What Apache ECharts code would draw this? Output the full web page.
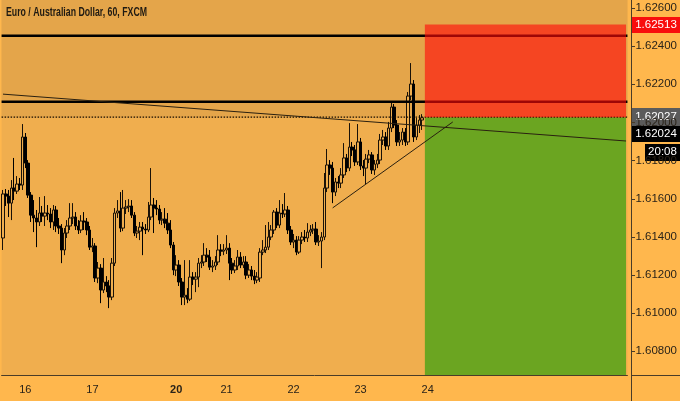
<!DOCTYPE html>
<html><head><meta charset="utf-8">
<script src="https://cdn.jsdelivr.net/npm/echarts@6/dist/echarts.min.js"></script>
<style>html,body{margin:0;padding:0;background:#FFB74D}#c{width:680px;height:401px}</style>
</head><body><div id="c"></div>
<script>
const chartTitle = 'Euro / Australian Dollar, 60, FXCM';
const dayLabels = {8:'16', 32:'17', 62:'20', 80:'21', 104:'22', 128:'23', 152:'24'};
const boldDays = ['20'];
const nCats = 224;

const open = [1.61393,1.61624,1.61613,1.61576,1.61655,1.61639,1.61676,1.61671,1.61923,1.61786,
1.61618,1.61513,1.61498,1.61477,1.61524,1.61508,1.61524,1.61519,1.61477,1.61540,
1.61456,1.61445,1.61330,1.61419,1.61456,1.61498,1.61503,1.61456,1.61435,1.61482,
1.61477,1.61435,1.61345,1.61351,1.61183,1.61235,1.61120,1.61162,1.61141,1.61083,
1.61261,1.61524,1.61535,1.61445,1.61550,1.61556,1.61561,1.61513,1.61419,1.61429,
1.61450,1.61440,1.61435,1.61503,1.61566,1.61550,1.61545,1.61487,1.61492,1.61471,
1.61435,1.61356,1.61225,1.61251,1.61162,1.61083,1.61093,1.61072,1.61188,1.61177,
1.61188,1.61261,1.61267,1.61303,1.61293,1.61240,1.61246,1.61267,1.61330,1.61324,
1.61330,1.61340,1.61261,1.61225,1.61246,1.61293,1.61251,1.61267,1.61198,1.61225,
1.61193,1.61172,1.61183,1.61319,1.61330,1.61345,1.61398,1.61435,1.61529,1.61461,
1.61524,1.61519,1.61540,1.61435,1.61372,1.61382,1.61319,1.61382,1.61398,1.61393,
1.61424,1.61435,1.61440,1.61372,1.61377,1.61398,1.61655,1.61776,1.61760,1.61634,
1.61687,1.61681,1.61724,1.61813,1.61760,1.61870,1.61855,1.61792,1.61897,1.61771,
1.61760,1.61807,1.61829,1.61750,1.61781,1.61802,1.61907,1.61923,1.61876,1.61970,
1.62080,1.61986,1.61897,1.61907,1.61949,1.61897,1.62138,1.62201,1.61923,1.61986,
1.62012];
const close = [1.61624,1.61613,1.61576,1.61655,1.61639,1.61676,1.61671,1.61923,1.61786,1.61618,
1.61513,1.61498,1.61477,1.61524,1.61508,1.61524,1.61519,1.61477,1.61540,1.61456,
1.61445,1.61330,1.61419,1.61456,1.61498,1.61503,1.61456,1.61435,1.61482,1.61477,
1.61435,1.61345,1.61351,1.61183,1.61235,1.61120,1.61162,1.61141,1.61083,1.61261,
1.61524,1.61535,1.61445,1.61550,1.61556,1.61561,1.61513,1.61419,1.61429,1.61450,
1.61440,1.61435,1.61503,1.61566,1.61550,1.61545,1.61487,1.61492,1.61471,1.61435,
1.61356,1.61225,1.61251,1.61162,1.61083,1.61093,1.61072,1.61188,1.61177,1.61188,
1.61261,1.61267,1.61303,1.61293,1.61240,1.61246,1.61267,1.61330,1.61324,1.61330,
1.61340,1.61261,1.61225,1.61246,1.61293,1.61251,1.61267,1.61198,1.61225,1.61193,
1.61172,1.61188,1.61319,1.61330,1.61345,1.61398,1.61435,1.61529,1.61461,1.61524,
1.61519,1.61540,1.61435,1.61372,1.61382,1.61319,1.61382,1.61398,1.61393,1.61424,
1.61435,1.61440,1.61372,1.61377,1.61398,1.61655,1.61776,1.61760,1.61634,1.61687,
1.61681,1.61724,1.61813,1.61760,1.61870,1.61855,1.61792,1.61897,1.61771,1.61760,
1.61807,1.61829,1.61750,1.61781,1.61802,1.61907,1.61923,1.61876,1.61970,1.62080,
1.61986,1.61897,1.61907,1.61949,1.61897,1.62138,1.62201,1.61923,1.61986,1.62012,
1.62024];
const low = [1.61330,1.61561,1.61503,1.61487,1.61592,1.61624,1.61645,1.61645,1.61760,1.61603,
1.61477,1.61424,1.61345,1.61456,1.61477,1.61456,1.61487,1.61445,1.61435,1.61424,
1.61414,1.61261,1.61303,1.61393,1.61435,1.61466,1.61435,1.61414,1.61419,1.61435,
1.61408,1.61330,1.61319,1.61162,1.61156,1.61051,1.61104,1.61109,1.61025,1.61067,
1.61246,1.61498,1.61424,1.61429,1.61519,1.61529,1.61498,1.61403,1.61393,1.61382,
1.61303,1.61414,1.61424,1.61487,1.61419,1.61513,1.61466,1.61461,1.61445,1.61414,
1.61340,1.61198,1.61193,1.61141,1.61041,1.61041,1.61051,1.61062,1.61146,1.61109,
1.61135,1.61235,1.61246,1.61267,1.61225,1.61214,1.61225,1.61251,1.61298,1.61303,
1.61309,1.61172,1.61204,1.61209,1.61225,1.61235,1.61235,1.61177,1.61183,1.61172,
1.61151,1.61156,1.61162,1.61303,1.61314,1.61330,1.61382,1.61414,1.61445,1.61445,
1.61498,1.61503,1.61414,1.61356,1.61340,1.61303,1.61309,1.61361,1.61372,1.61372,
1.61403,1.61414,1.61356,1.61351,1.61235,1.61382,1.61634,1.61724,1.61576,1.61613,
1.61655,1.61655,1.61708,1.61739,1.61744,1.61823,1.61771,1.61776,1.61750,1.61718,
1.61676,1.61786,1.61729,1.61724,1.61760,1.61781,1.61881,1.61855,1.61855,1.61949,
1.61970,1.61876,1.61876,1.61881,1.61876,1.61881,1.62117,1.61897,1.61907,1.61944,
1.61960];
const high = [1.61645,1.61650,1.61645,1.61697,1.61813,1.61718,1.61708,1.61991,1.61944,1.61802,
1.61634,1.61592,1.61540,1.61608,1.61561,1.61613,1.61566,1.61550,1.61566,1.61561,
1.61498,1.61466,1.61445,1.61487,1.61576,1.61576,1.61529,1.61487,1.61513,1.61529,
1.61498,1.61456,1.61393,1.61366,1.61267,1.61256,1.61288,1.61193,1.61172,1.61288,
1.61550,1.61592,1.61634,1.61645,1.61592,1.61597,1.61592,1.61529,1.61456,1.61477,
1.61477,1.61466,1.61582,1.61760,1.61603,1.61592,1.61566,1.61529,1.61550,1.61524,
1.61487,1.61372,1.61303,1.61277,1.61183,1.61277,1.61130,1.61277,1.61214,1.61214,
1.61288,1.61303,1.61366,1.61340,1.61330,1.61277,1.61298,1.61408,1.61361,1.61361,
1.61408,1.61366,1.61288,1.61277,1.61330,1.61319,1.61298,1.61298,1.61256,1.61246,
1.61225,1.61214,1.61340,1.61382,1.61461,1.61477,1.61461,1.61540,1.61550,1.61592,
1.61571,1.61629,1.61561,1.61456,1.61414,1.61403,1.61403,1.61424,1.61435,1.61471,
1.61461,1.61466,1.61477,1.61408,1.61424,1.61734,1.61860,1.61802,1.61792,1.61708,
1.61718,1.61760,1.61891,1.61834,1.61996,1.61897,1.61881,1.61991,1.61918,1.61802,
1.61834,1.61855,1.61844,1.61802,1.61834,1.61939,1.61960,1.61949,1.62002,1.62107,
1.62096,1.62012,1.61949,1.61970,1.61970,1.62159,1.62311,1.62222,1.62023,1.62038,
1.62043];

const yTicks = [1.608, 1.610, 1.612, 1.614, 1.616, 1.618, 1.620, 1.622, 1.624, 1.626];
const yMin = 1.60674, yMax = 1.62642;
const resistanceLevels = [1.62454, 1.62108];
const entryPrice = 1.62027;
const stopPrice = 1.62513;
const lastPrice = 1.62024;
const countdown = '20:08';
const trendA = [[0, 1.62148], [223, 1.61902]];
const trendB = [[118, 1.61551], [161, 1.62002]];
const positionStart = 151, positionEnd = 223;

const chart = echarts.init(document.getElementById('c'), null, {renderer: 'canvas'});
const cats = Array.from({length: nCats}, (_, i) => String(i));
const candles = open.map((o, i) => [o, close[i], low[i], high[i]]);
const axisCol = '#4a3c28';
const txtCol = '#2a2319';
const FONT = "'Liberation Sans', Arial, sans-serif";

const level = (v, style, z) => ({type: 'line', xAxisIndex: 1, data: [[0, v], [1, v]], z: z, symbol: 'none', silent: true, lineStyle: style});

const option = {
  animation: false,
  backgroundColor: '#FFB74D',
  grid: {left: 0, right: 49, top: 0, bottom: 26, show: true, backgroundColor: '#F0AE4E', borderWidth: 0},
  xAxis: [{
    type: 'category', data: cats, boundaryGap: true,
    axisLine: {onZero: false, lineStyle: {color: axisCol, width: 1}},
    axisTick: {interval: (i) => dayLabels[i] !== undefined, alignWithLabel: true, length: 4, lineStyle: {color: axisCol}},
    axisLabel: {
      interval: 0, margin: 9, fontSize: 11, color: txtCol, fontFamily: FONT,
      formatter: (v, i) => { const l = dayLabels[i]; if (!l) return ''; return boldDays.includes(l) ? '{b|' + l + '}' : l; },
      rich: {b: {fontWeight: 'bold', fontSize: 11, color: txtCol, fontFamily: FONT}}
    },
    splitLine: {show: false}
  }, {
    type: 'value', min: 0, max: 1, show: false, axisLine: {onZero: false}
  }],
  yAxis: {
    type: 'value', position: 'right', min: yMin, max: yMax,
    axisLine: {show: false, onZero: false},
    axisTick: {show: false},
    axisLabel: {customValues: yTicks, formatter: (v) => v.toFixed(5), margin: 8, fontSize: 11.5, color: txtCol, fontFamily: FONT},
    splitLine: {show: false}
  },
  series: [
    {type: 'line', data: [], z: 0, silent: true,
     markArea: {silent: true, z: 0, itemStyle: {color: '#E4A54A'}, data: [[{yAxis: entryPrice}, {yAxis: yMax}]]}},
    {type: 'line', data: [], z: 1, silent: true,
     markArea: {silent: true, z: 1, itemStyle: {color: '#6BA521'}, data: [[{xAxis: positionStart, yAxis: entryPrice}, {xAxis: positionEnd, yAxis: yMin}]]}},
    {type: 'candlestick', data: candles, z: 3, barWidth: 3,
     itemStyle: {color: '#F0AE4E', color0: '#000000', borderColor: '#1a1208', borderColor0: '#000000', borderWidth: 1}},
    ...resistanceLevels.map(v => level(v, {color: '#000', width: 2.5, type: 'solid'}, 4)),
    level(entryPrice, {color: '#140c00', width: 1.3, type: [1.5, 1.5]}, 4),
    {type: 'line', data: trendA, z: 4, symbol: 'none', silent: true, lineStyle: {color: '#2a2010', width: 1}},
    {type: 'line', data: trendB, z: 4, symbol: 'none', silent: true, lineStyle: {color: '#2a2010', width: 1}},
    {type: 'line', data: [], z: 10, silent: true,
     markArea: {silent: true, z: 10, itemStyle: {color: 'rgba(255,10,10,0.62)'}, data: [[{xAxis: positionStart, yAxis: stopPrice}, {xAxis: positionEnd, yAxis: entryPrice}]]}}
  ]
};
chart.setOption(option);

const py = (v) => chart.convertToPixel({yAxisIndex: 0}, v);
const yS = py(stopPrice), yE = py(entryPrice);
const lastY = yE + 17;
function priceBox(cy, text, fill, x, w, h) {
  return {type: 'group', z: 100, children: [
    {type: 'rect', shape: {x: x, y: Math.round(cy - h / 2), width: w, height: h}, style: {fill: fill}},
    {type: 'text', x: x + w / 2, y: Math.round(cy), style: {text: text, fill: '#fff', fontSize: 11.5, fontFamily: FONT, align: 'center', verticalAlign: 'middle'}}
  ]};
}
const titleFont = "bold 12.5px 'Liberation Sans', Arial, sans-serif";
const ctx = document.createElement('canvas').getContext('2d');
ctx.font = titleFont;
const tw = ctx.measureText(chartTitle).width;
const sx = 141 / tw;

const tickMarks = yTicks.map(v => {
  const y = Math.round(py(v)) + 0.5;
  return {type: 'line', z: 60, shape: {x1: 631, y1: y, x2: 635, y2: y}, style: {stroke: axisCol, lineWidth: 1}};
});

chart.setOption({graphic: [
  {type: 'text', z: 100, x: 6, y: 13, scaleX: sx, style: {text: chartTitle, fill: '#1f1a12', font: titleFont, verticalAlign: 'middle'}},
  {type: 'line', z: 50, shape: {x1: 631, y1: 375.5, x2: 680, y2: 375.5}, style: {stroke: axisCol, lineWidth: 1}},
  {type: 'line', z: 50, shape: {x1: 631.5, y1: 0, x2: 631.5, y2: 401}, style: {stroke: axisCol, lineWidth: 1}},
  ...tickMarks,
  priceBox(yS, stopPrice.toFixed(5), '#F80D0D', 632, 48, 16),
  priceBox(yE, entryPrice.toFixed(5), '#5B5B5B', 632, 48, 18),
  priceBox(lastY, lastPrice.toFixed(5), '#000000', 632, 48, 16),
  priceBox(lastY + 18, countdown, '#000000', 645, 35, 17)
]});
</script>
</body></html>
